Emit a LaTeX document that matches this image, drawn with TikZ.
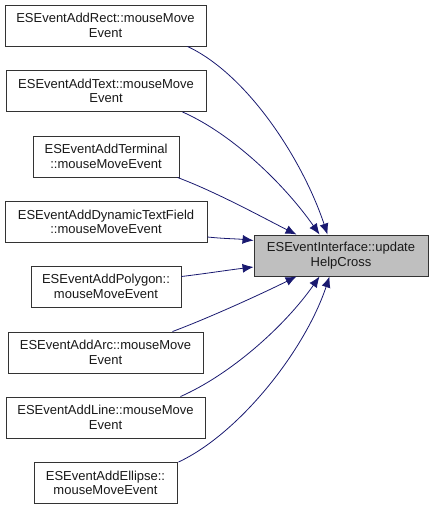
\documentclass[tikz,border=0pt]{standalone}
\usepackage{fontspec}
\setmainfont{Liberation Sans}
\usetikzlibrary{arrows.meta,calc}
\definecolor{edgecol}{HTML}{191970}
\begin{document}
\begin{tikzpicture}[x=1pt,y=-1pt,
  box/.style={draw=black!80,line width=0.9pt,fill=white,rectangle,inner sep=0pt,align=center,
    font=\fontsize{13}{14.5}\selectfont,text=black!90},
  target/.style={box,fill=black!25},
  edge/.style={draw=edgecol,line width=0.8pt,-{Latex[length=11pt,width=9pt]}}]
\useasboundingbox (0,0) rectangle (432,509);
\node[box,minimum width=201pt,minimum height=41pt] (rect) at (105.5,25.5) {ESEventAddRect::mouseMove\\Event};
\node[box,minimum width=200pt,minimum height=41pt] (text) at (106,91) {ESEventAddText::mouseMove\\Event};
\node[box,minimum width=146pt,minimum height=41pt] (term) at (106,156.5) {ESEventAddTerminal\\::mouseMoveEvent};
\node[box,minimum width=202pt,minimum height=41pt] (dtf) at (106,222) {ESEventAddDynamicTextField\\::mouseMoveEvent};
\node[box,minimum width=150pt,minimum height=41pt] (poly) at (106,286.5) {ESEventAddPolygon::\\mouseMoveEvent};
\node[box,minimum width=195pt,minimum height=41pt] (arc) at (105.5,352.5) {ESEventAddArc::mouseMove\\Event};
\node[box,minimum width=199pt,minimum height=41pt] (line) at (105.5,417.5) {ESEventAddLine::mouseMove\\Event};
\node[box,minimum width=143pt,minimum height=41pt] (ell) at (105.5,483) {ESEventAddEllipse::\\mouseMoveEvent};
\node[target,minimum width=174pt,minimum height=41pt] (tgt) at (341,255.5) {ESEventInterface::update\\HelpCross};

\draw[edge] ($(rect.south east)+(-19,0)$) .. controls +(60,28) and +(-25,-75) .. ($(tgt.north west)+(74,0)$);
\draw[edge] ($(text.south east)+(-24,0)$) .. controls +(50,22) and +(-35,-50) .. ($(tgt.north west)+(66,0)$);
\draw[edge] ($(term.south east)+(-2,0)$) .. controls +(40,15) and +(-30,-15) .. ($(tgt.north west)+(43,0)$);
\draw[edge] ($(dtf.east)+(0,15)$) .. controls +(20,2) and +(-20,-2) .. ($(tgt.west)+(0,-15)$);
\draw[edge] ($(poly.east)+(0,-10)$) .. controls +(25,-3) and +(-25,3) .. ($(tgt.west)+(0,11.5)$);
\draw[edge] ($(arc.north east)+(-31,0)$) .. controls +(40,-15) and +(-30,15) .. ($(tgt.south west)+(43,0)$);
\draw[edge] ($(line.north east)+(-25,0)$) .. controls +(50,-22) and +(-35,50) .. ($(tgt.south west)+(66,0)$);
\draw[edge] ($(ell.north east)+(1,0)$) .. controls +(60,-28) and +(-25,75) .. ($(tgt.south west)+(76,0)$);
\end{tikzpicture}
\end{document}
